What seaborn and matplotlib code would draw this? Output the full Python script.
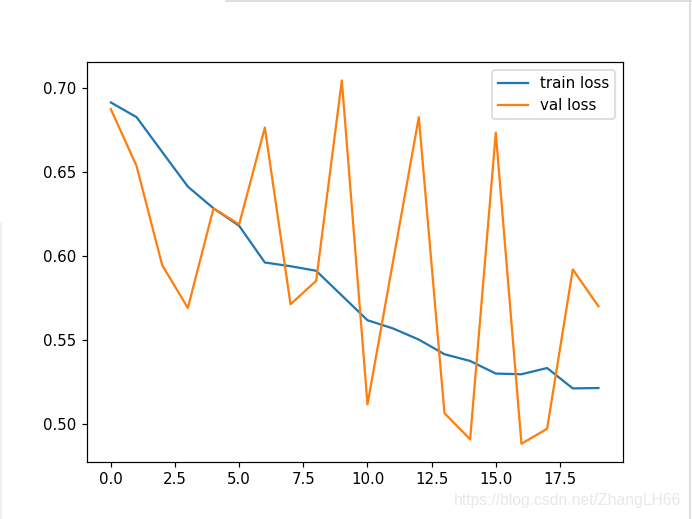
import numpy as np
import seaborn as sns
import matplotlib.pyplot as plt
from matplotlib.lines import Line2D

# loss per epoch
epochs = list(range(20))
train_loss = [0.6913, 0.6826, 0.6619, 0.6413, 0.6284, 0.6180, 0.5962, 0.5940, 0.5913, 0.5766,
              0.5619, 0.5570, 0.5504, 0.5417, 0.5377, 0.5302, 0.5298, 0.5335, 0.5214, 0.5216]
val_loss = [0.6873, 0.6536, 0.5946, 0.5692, 0.6284, 0.6189, 0.6764, 0.5714, 0.5853, 0.7044,
            0.5119, 0.5972, 0.6826, 0.5067, 0.4911, 0.6734, 0.4885, 0.4974, 0.5921, 0.5702]

fig = plt.figure(figsize=(6.4, 4.8), dpi=108.125)
ax = fig.add_subplot(111)
sns.lineplot(x=epochs, y=train_loss, label='train loss', ax=ax)
sns.lineplot(x=epochs, y=val_loss, label='val loss', ax=ax)
ax.legend(loc='upper right')

# watermark and screenshot edges
fig.text(0.985, 0.035, 'https://blog.csdn.net/ZhangLH66', ha='right', va='center',
         color='#e8e8e8', fontsize=10.5, family='Liberation Sans')
fig.add_artist(Line2D([0.326, 1.0], [0.998, 0.998], color='#dcdcdc', lw=1.2))
fig.add_artist(Line2D([0.997, 0.997], [0.0, 1.0], color='#dcdcdc', lw=1.2))
fig.add_artist(Line2D([0.001, 0.001], [0.0, 0.57], color='#ececec', lw=1))

plt.savefig('out.png', dpi=108.125)
